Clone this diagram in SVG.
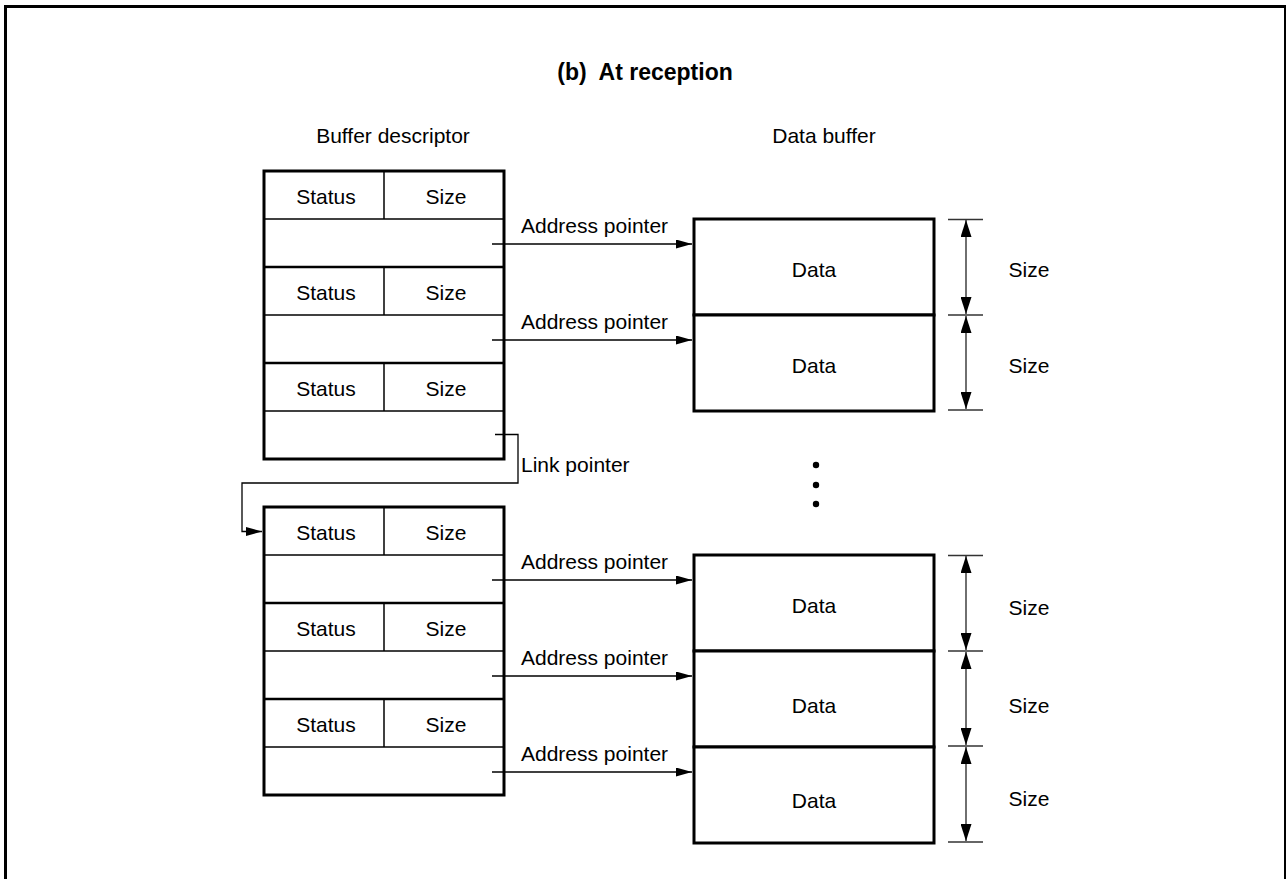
<svg xmlns="http://www.w3.org/2000/svg" width="1286" height="879" viewBox="0 0 1286 879">
<style>
text{font-family:"Liberation Sans",Arial,sans-serif;font-size:21px;fill:#000}
.title{font-weight:bold;font-size:23px;white-space:pre}
.c{text-anchor:middle}
.box{fill:#fff;stroke:#000;stroke-width:3}
.thin{stroke:#000;stroke-width:1.5;fill:none}
.sep{stroke:#000;stroke-width:2.5;fill:none}
.ptr{stroke:#000;stroke-width:1.3;fill:none}
.dim{stroke:#333;stroke-width:1.4;fill:none}
</style>
<defs>
<marker id="ah" markerUnits="userSpaceOnUse" markerWidth="17" markerHeight="9" refX="16" refY="4.5" orient="auto-start-reverse">
<path d="M0,0 L16,4.5 L0,9 z" fill="#000"/>
</marker>
<marker id="dh" markerUnits="userSpaceOnUse" markerWidth="18" markerHeight="11" refX="17" refY="5.5" orient="auto-start-reverse">
<path d="M0,0 L17,5.5 L0,11 z" fill="#000"/>
</marker>
</defs>
<rect x="5.5" y="6.5" width="1280" height="900" fill="none" stroke="#000" stroke-width="3"/>
<text class="title c" x="645" y="80" xml:space="preserve">(b)  At reception</text>
<text class="c" x="393" y="143">Buffer descriptor</text>
<text class="c" x="824" y="143">Data buffer</text>

<g id="descriptor-1">
<rect class="box" x="264" y="171" width="240" height="288"/>
<line class="thin" x1="384" y1="171" x2="384" y2="219"/>
<line class="thin" x1="264" y1="219" x2="504" y2="219"/>
<line class="sep" x1="264" y1="267" x2="504" y2="267"/>
<line class="thin" x1="384" y1="267" x2="384" y2="315"/>
<line class="thin" x1="264" y1="315" x2="504" y2="315"/>
<line class="sep" x1="264" y1="363" x2="504" y2="363"/>
<line class="thin" x1="384" y1="363" x2="384" y2="411"/>
<line class="thin" x1="264" y1="411" x2="504" y2="411"/>
<text class="c" x="326" y="204">Status</text><text class="c" x="446" y="204">Size</text>
<text class="c" x="326" y="300">Status</text><text class="c" x="446" y="300">Size</text>
<text class="c" x="326" y="396">Status</text><text class="c" x="446" y="396">Size</text>
</g>

<g id="descriptor-2">
<rect class="box" x="264" y="507" width="240" height="288"/>
<line class="thin" x1="384" y1="507" x2="384" y2="555"/>
<line class="thin" x1="264" y1="555" x2="504" y2="555"/>
<line class="sep" x1="264" y1="603" x2="504" y2="603"/>
<line class="thin" x1="384" y1="603" x2="384" y2="651"/>
<line class="thin" x1="264" y1="651" x2="504" y2="651"/>
<line class="sep" x1="264" y1="699" x2="504" y2="699"/>
<line class="thin" x1="384" y1="699" x2="384" y2="747"/>
<line class="thin" x1="264" y1="747" x2="504" y2="747"/>
<text class="c" x="326" y="540">Status</text><text class="c" x="446" y="540">Size</text>
<text class="c" x="326" y="636">Status</text><text class="c" x="446" y="636">Size</text>
<text class="c" x="326" y="732">Status</text><text class="c" x="446" y="732">Size</text>
</g>

<g id="data-1"><rect class="box" x="694" y="219" width="240" height="96"/><text class="c" x="814" y="277">Data</text></g>
<g id="data-2"><rect class="box" x="694" y="315" width="240" height="96"/><text class="c" x="814" y="373">Data</text></g>
<g id="data-3"><rect class="box" x="694" y="555" width="240" height="96"/><text class="c" x="814" y="613">Data</text></g>
<g id="data-4"><rect class="box" x="694" y="651" width="240" height="96"/><text class="c" x="814" y="713">Data</text></g>
<g id="data-5"><rect class="box" x="694" y="747" width="240" height="96"/><text class="c" x="814" y="808">Data</text></g>

<g id="ellipsis">
<circle cx="816" cy="465" r="3.2" fill="#000"/>
<circle cx="816" cy="485" r="3.2" fill="#000"/>
<circle cx="816" cy="504" r="3.2" fill="#000"/>
</g>

<g id="connectors">
<line class="ptr" x1="492" y1="244" x2="692" y2="244" marker-end="url(#ah)"/>
<line class="ptr" x1="492" y1="340" x2="692" y2="340" marker-end="url(#ah)"/>
<line class="ptr" x1="492" y1="580" x2="692" y2="580" marker-end="url(#ah)"/>
<line class="ptr" x1="492" y1="676" x2="692" y2="676" marker-end="url(#ah)"/>
<line class="ptr" x1="492" y1="772" x2="692" y2="772" marker-end="url(#ah)"/>
<path class="ptr" d="M495,434.5 H518 V483 H242 V531.5 H262" marker-end="url(#ah)"/>
</g>
<g id="labels">
<text x="521" y="233">Address pointer</text>
<text x="521" y="329">Address pointer</text>
<text x="521" y="569">Address pointer</text>
<text x="521" y="665">Address pointer</text>
<text x="521" y="761">Address pointer</text>
<text x="521" y="472">Link pointer</text>
</g>

<g id="dimensions">
<line class="dim" x1="948" y1="219.5" x2="983" y2="219.5"/>
<line class="dim" x1="948" y1="315" x2="983" y2="315"/>
<line class="dim" x1="948" y1="410" x2="983" y2="410"/>
<line class="dim" x1="966" y1="220" x2="966" y2="314" marker-start="url(#dh)" marker-end="url(#dh)"/>
<line class="dim" x1="966" y1="316" x2="966" y2="409" marker-start="url(#dh)" marker-end="url(#dh)"/>
<line class="dim" x1="948" y1="555.5" x2="983" y2="555.5"/>
<line class="dim" x1="948" y1="651" x2="983" y2="651"/>
<line class="dim" x1="948" y1="746" x2="983" y2="746"/>
<line class="dim" x1="948" y1="842" x2="983" y2="842"/>
<line class="dim" x1="966" y1="556" x2="966" y2="650" marker-start="url(#dh)" marker-end="url(#dh)"/>
<line class="dim" x1="966" y1="652" x2="966" y2="745" marker-start="url(#dh)" marker-end="url(#dh)"/>
<line class="dim" x1="966" y1="747" x2="966" y2="841" marker-start="url(#dh)" marker-end="url(#dh)"/>
<text class="c" x="1029" y="277">Size</text>
<text class="c" x="1029" y="373">Size</text>
<text class="c" x="1029" y="615">Size</text>
<text class="c" x="1029" y="713">Size</text>
<text class="c" x="1029" y="806">Size</text>
</g>
</svg>
